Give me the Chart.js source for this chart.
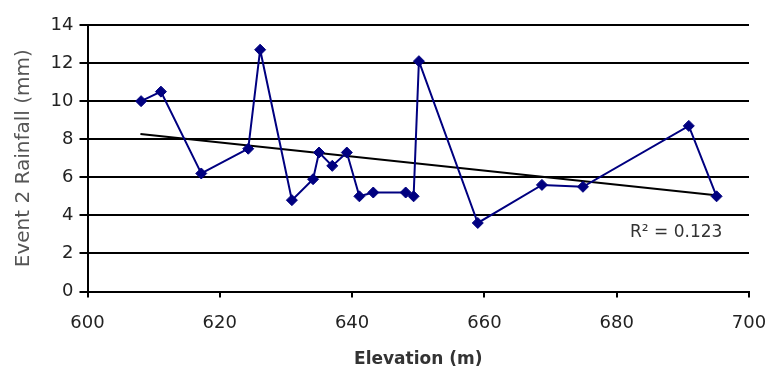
<!DOCTYPE html>
<html>
<head>
<meta charset="utf-8">
<title>Event 2 Rainfall vs Elevation</title>
<script src="https://cdn.jsdelivr.net/npm/chart.js@4"></script>
<style>
  body { margin: 0; background: #fff; }
  #wrap { width: 769px; height: 371px; }
</style>
</head>
<body>
<div id="wrap"><canvas id="rainChart"></canvas></div>
<script>
// values
const elevation = [608.1, 611.1, 617.2, 624.3, 626.1, 630.9, 634.1, 635.0, 637.0, 639.2,
                   641.1, 643.2, 648.1, 649.3, 650.1, 659.0, 668.7, 674.9, 690.9, 695.1];
const rainfall = [10.0, 10.5, 6.2, 7.5, 12.7, 4.8, 5.9, 7.3, 6.6, 7.3,
                  5.0, 5.2, 5.2, 5.0, 12.1, 3.6, 5.6, 5.5, 8.7, 5.0];

// linear trendline end points (Excel style)
const trendElevation = [608, 695];
const trendRainfall = [8.27, 5.06];

const rSquaredLabel = 'R² = 0.123';
const rSquaredAt = { x: 689, y: 3.1 };

const xTicks = { min: 600, max: 700, step: 20 };
const yTicks = { min: 0, max: 14, step: 2 };

const FONT = '"DejaVu Sans", "Liberation Sans", Arial, sans-serif';
const navy = '#000080';

const toPoints = (xs, ys) => xs.map((x, i) => ({ x: x, y: ys[i] }));

// writes the R-squared note next to the trendline
const rSquaredPlugin = {
  id: 'rSquared',
  afterDatasetsDraw(chart) {
    const { ctx, scales } = chart;
    ctx.save();
    ctx.font = '17px ' + FONT;
    ctx.fillStyle = '#333';
    ctx.textAlign = 'center';
    ctx.textBaseline = 'middle';
    ctx.fillText(rSquaredLabel, scales.x.getPixelForValue(rSquaredAt.x), scales.y.getPixelForValue(rSquaredAt.y));
    ctx.restore();
  }
};

const ctx = document.getElementById('rainChart').getContext('2d');
new Chart(ctx, {
  type: 'scatter',
  data: {
    datasets: [{
      label: 'Event 2 Rainfall',
      data: toPoints(elevation, rainfall),
      showLine: true,
      borderColor: navy,
      backgroundColor: navy,
      borderWidth: 2,
      pointStyle: 'rectRot',
      pointRadius: 5.5,
      pointBorderWidth: 1
    }, {
      label: 'Linear trend',
      data: toPoints(trendElevation, trendRainfall),
      showLine: true,
      borderColor: '#000',
      borderWidth: 2,
      pointRadius: 0
    }]
  },
  options: {
    responsive: true,
    maintainAspectRatio: false,
    animation: false,
    layout: { padding: { top: 25, right: 20, bottom: 0, left: 0 } },
    plugins: {
      legend: { display: false },
      tooltip: { enabled: false }
    },
    scales: {
      x: {
        type: 'linear',
        min: xTicks.min,
        max: xTicks.max,
        afterFit: (scale) => {
          scale.height = 79.5;
          // keep the plot edges fixed, the layout padding leaves room for the end labels
          scale.paddingLeft = 0;
          scale.paddingRight = 0;
        },
        ticks: {
          stepSize: xTicks.step,
          color: '#222',
          padding: 15,
          font: { family: FONT, size: 18 }
        },
        grid: {
          drawOnChartArea: false,
          drawTicks: true,
          tickLength: 6,
          color: '#000',
          lineWidth: 2
        },
        border: { color: '#000', width: 2 },
        title: {
          display: true,
          text: 'Elevation (m)',
          color: '#333',
          padding: { top: 0, bottom: 1 },
          font: { family: FONT, size: 17, weight: 'bold' }
        }
      },
      y: {
        min: yTicks.min,
        max: yTicks.max,
        afterFit: (scale) => { scale.width = 87.5; },
        ticks: {
          stepSize: yTicks.step,
          color: '#222',
          padding: 6,
          font: { family: FONT, size: 18 }
        },
        grid: {
          color: '#000',
          lineWidth: 2,
          tickLength: 8
        },
        border: { color: '#000', width: 2 },
        title: {
          display: true,
          text: 'Event 2 Rainfall (mm)',
          color: '#555',
          padding: { top: 12, bottom: 0 },
          font: { family: FONT, size: 20 }
        }
      }
    }
  },
  plugins: [rSquaredPlugin]
});
</script>
</body>
</html>
